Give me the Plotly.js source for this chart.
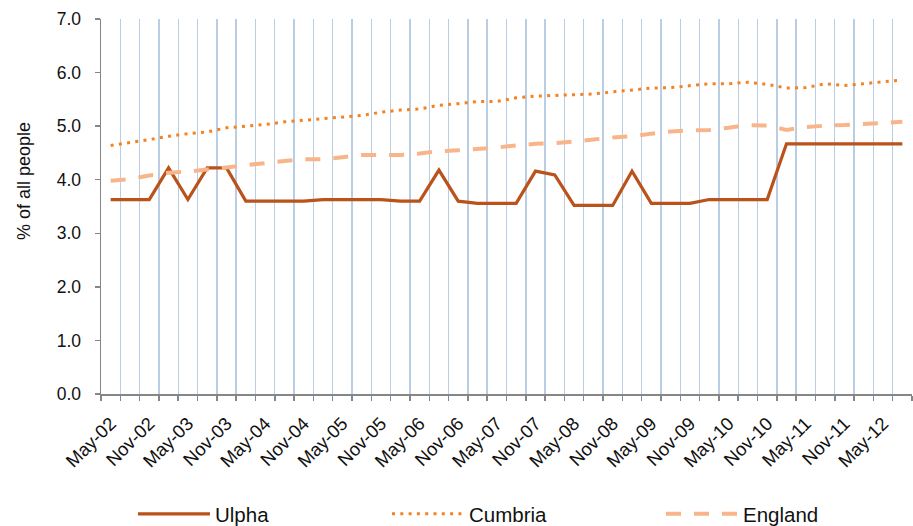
<!DOCTYPE html>
<html>
<head>
<meta charset="utf-8">
<script src="https://cdn.plot.ly/plotly-3.0.1.min.js"></script>
<style>html,body{margin:0;padding:0;background:#fff;}#chart{width:913px;height:526px;}</style>
</head>
<body>
<div id="chart"></div>
<script>
// Quarterly categories May-02 .. Aug-12
const categories = [
  'May-02','Aug-02','Nov-02','Feb-03','May-03','Aug-03','Nov-03','Feb-04',
  'May-04','Aug-04','Nov-04','Feb-05','May-05','Aug-05','Nov-05','Feb-06',
  'May-06','Aug-06','Nov-06','Feb-07','May-07','Aug-07','Nov-07','Feb-08',
  'May-08','Aug-08','Nov-08','Feb-09','May-09','Aug-09','Nov-09','Feb-10',
  'May-10','Aug-10','Nov-10','Feb-11','May-11','Aug-11','Nov-11','Feb-12',
  'May-12','Aug-12'
];
const tickLabels = categories.map(c => (c.startsWith('May') || c.startsWith('Nov')) ? c : '');

const ulpha = [
  3.63,3.63,3.63,4.22,3.63,4.22,4.22,3.60,
  3.60,3.60,3.60,3.63,3.63,3.63,3.63,3.60,
  3.60,4.18,3.60,3.56,3.56,3.56,4.16,4.09,
  3.52,3.52,3.52,4.16,3.56,3.56,3.56,3.63,
  3.63,3.63,3.63,4.67,4.67,4.67,4.67,4.67,
  4.67,4.67
];
const cumbria = [
  4.64,4.69,4.75,4.81,4.86,4.89,4.97,5.00,
  5.03,5.08,5.11,5.13,5.16,5.20,5.26,5.30,
  5.32,5.39,5.42,5.46,5.46,5.53,5.56,5.57,
  5.59,5.60,5.64,5.68,5.71,5.72,5.75,5.79,
  5.79,5.82,5.78,5.71,5.72,5.79,5.76,5.79,
  5.83,5.86
];
const england = [
  3.98,4.01,4.08,4.13,4.15,4.19,4.24,4.27,
  4.31,4.35,4.38,4.38,4.42,4.46,4.46,4.46,
  4.49,4.53,4.55,4.57,4.60,4.64,4.67,4.68,
  4.71,4.75,4.79,4.81,4.86,4.90,4.92,4.93,
  4.97,5.02,5.01,4.93,4.98,5.01,5.02,5.04,
  5.05,5.08
];
const seriesNames = ['Ulpha','Cumbria','England'];
const yTitle = '% of all people';

const FONT = 'Liberation Sans, Arial, sans-serif';
const traces = [
  {x: categories, y: ulpha, name: seriesNames[0], type: 'scatter', mode: 'lines',
   line: {color: '#BA521B', width: 3.2}, legend: 'legend'},
  {x: categories, y: cumbria, name: seriesNames[1], type: 'scatter', mode: 'lines',
   line: {color: '#F58220', width: 3, dash: '3px,5.3px'}, legend: 'legend2'},
  {x: categories, y: england, name: seriesNames[2], type: 'scatter', mode: 'lines',
   line: {color: '#F9B58A', width: 4, dash: '15px,13px'}, legend: 'legend3'}
];

const legendBase = {
  orientation: 'h', xref: 'container', yref: 'container',
  xanchor: 'left', yanchor: 'middle', y: 12/526,
  font: {family: FONT, size: 20.5, color: '#111'}, itemwidth: 72,
  bgcolor: 'rgba(0,0,0,0)'
};

const layout = {
  width: 913, height: 526,
  margin: {l: 101, r: 1, t: 19, b: 132},
  paper_bgcolor: '#fff', plot_bgcolor: '#fff',
  showlegend: true,
  xaxis: {
    type: 'category', range: [-0.5, 41.5],
    tickmode: 'array', tickvals: categories, ticktext: tickLabels,
    tickson: 'boundaries', tickangle: -45,
    showgrid: true, gridcolor: '#B9CDE5', gridwidth: 1.4,
    showline: true, linecolor: '#868686', linewidth: 1.5,
    ticks: 'outside', ticklen: 5, tickcolor: '#868686', tickwidth: 1.5,
    tickfont: {family: FONT, size: 18.5, color: '#111'},
    ticklabelstandoff: 10,
    zeroline: false, fixedrange: true
  },
  yaxis: {
    range: [0, 7], dtick: 1, tickformat: '.1f',
    showgrid: false, zeroline: false,
    showline: true, linecolor: '#868686', linewidth: 1.5,
    ticks: 'outside', ticklen: 5, tickcolor: '#868686', tickwidth: 1.5,
    tickfont: {family: FONT, size: 17.5, color: '#111'},
    ticklabelstandoff: 10,
    fixedrange: true
  },
  annotations: [{
    text: yTitle, textangle: -90, showarrow: false,
    xref: 'paper', yref: 'paper', x: (24 - 101) / 811, y: (394 - 181) / 375,
    xanchor: 'center', yanchor: 'middle',
    font: {family: FONT, size: 18, color: '#111'}
  }],
  legend: Object.assign({}, legendBase, {x: 133/913}),
  legend2: Object.assign({}, legendBase, {x: 387/913}),
  legend3: Object.assign({}, legendBase, {x: 661/913})
};

Plotly.newPlot('chart', traces, layout, {displayModeBar: false, staticPlot: true});
</script>
</body>
</html>
